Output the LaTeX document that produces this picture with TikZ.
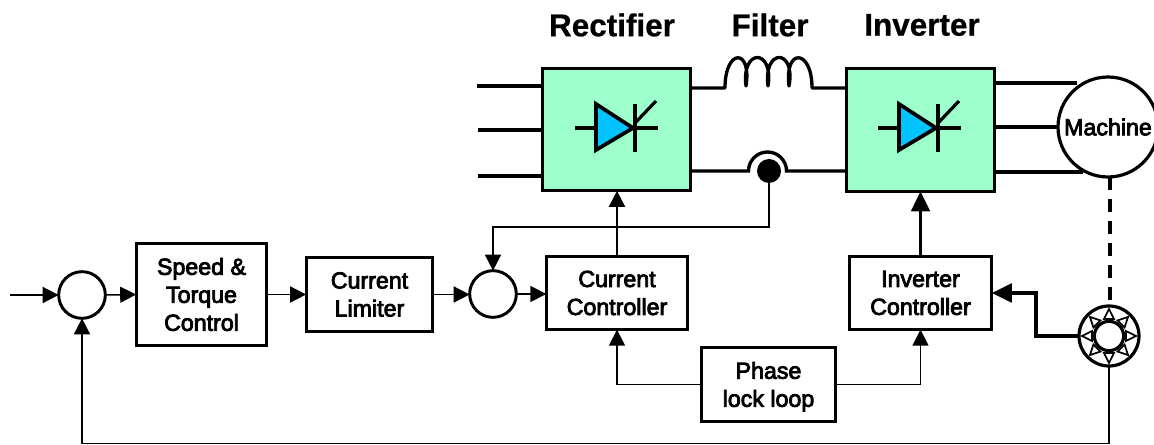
\documentclass[tikz,border=0pt]{standalone}
\usepackage{fontspec}
\setmainfont{Liberation Sans}
\newfontfamily\lab[FakeBold=3.5]{Liberation Sans}
\newfontfamily\ttl[FakeBold=0.6]{Liberation Sans Bold}
\usetikzlibrary{arrows.meta,calc}
\tikzset{
  x=0.75pt,y=-0.75pt,
  ctl/.style={draw,line width=2.4pt,fill=white,align=center,inner sep=0,outer sep=0,font=\lab\fontsize{17.4}{21}\selectfont},
  pow/.style={draw,line width=2.4pt,fill=powgreen,inner sep=0,outer sep=0,minimum width=111pt,minimum height=92pt},
  sumnode/.style={circle,draw,line width=2.2pt,fill=white,minimum size=35pt,inner sep=0,outer sep=0},
  wire/.style={line width=2.5pt},
  sig/.style={line width=1.15pt,-{Triangle[length=12pt,width=12pt]}},
  sigb/.style={line width=2.2pt,-{Triangle[length=15pt,width=14pt]}},
  thin wire/.style={line width=1.15pt},
  titletext/.style={font=\ttl\fontsize{23.6}{26}\selectfont,inner sep=0},
}
\definecolor{powgreen}{HTML}{9DFFCC}
\definecolor{diodeblue}{HTML}{00C3FF}
\newcommand{\thyr}[1]{%
  \begin{scope}[shift={(#1,128)}]
    \draw[line width=2.8pt] (-43,0) -- (40,0);
    \draw[line width=2.8pt] (17,-24) -- (17,24);
    \draw[line width=2.4pt] (18,-6) -- (38,-27);
    \draw[line width=2.8pt,fill=diodeblue,line join=miter] (-22,-24) -- (15,0) -- (-22,22) -- cycle;
  \end{scope}}
\begin{document}
\begin{tikzpicture}
\useasboundingbox (0,0) rectangle (1154,445);
% power stage
\node[pow] (rect) at (616.5,129.5) {};
\node[pow] (inv) at (920.5,130) {};
\thyr{618}
\thyr{921}
\node[titletext] (t1) at (612,25) {Rectifier};
\node[titletext] (t2) at (770,25) {Filter};
\node[titletext] (t3) at (922,25) {Inverter};
% mains
\coordinate (m1) at (477,86);
\coordinate (m2) at (478,130);
\coordinate (m3) at (478,176);
\draw[wire] (m1) -- (m1 -| rect.west);
\draw[wire] (m2) -- (m2 -| rect.west);
\draw[wire] (m3) -- (m3 -| rect.west);
% filter inductor
\coordinate (l0) at (725,88);
\coordinate (l4) at (812,88);
\draw[wire,line join=round] (rect.east |- l0) -- (l0)
  .. controls (725,48) and (752,48) .. (746,86)
  .. controls (741,48) and (774,48) .. (768,86)
  .. controls (763,48) and (796,48) .. (789,86)
  .. controls (784,48) and (812,48) .. (l4)
  -- (inv.west |- l4);
% current sensor
\node[circle,fill=black,minimum size=18pt,inner sep=0,outer sep=0] (cs) at (769,171) {};
\draw[wire] (rect.east |- cs) -- ++(58,0) arc[start angle=180,end angle=360,radius=19] -- (inv.west |- cs);
% machine
\node[sumnode,line width=2.4pt,minimum size=75pt,font=\lab\fontsize{17.4}{20}\selectfont] (mach) at (1108,127) {Machine};
\coordinate (o1) at (995,83);
\coordinate (o3) at (995,172);
\draw[wire] (o1) -- (1077,83);
\draw[wire] (inv.east |- mach) -- (mach.west);
\draw[wire] (o3) -- (1083,172);
% control blocks
\node[sumnode] (s1) at (82,295) {};
\node[sumnode] (s2) at (493,294) {};
\node[ctl,minimum width=98pt,minimum height=77pt] (spd) at (201.5,294.5) {Speed \&\\Torque\\Control};
\node[ctl,minimum width=95pt,minimum height=55pt] (lim) at (369.5,294.5) {Current\\Limiter};
\node[ctl,minimum width=106pt,minimum height=55pt] (cc) at (617,293) {Current\\Controller};
\node[ctl,minimum width=107pt,minimum height=55pt] (ic) at (920.5,293) {Inverter\\Controller};
\node[ctl,minimum width=100pt,minimum height=56pt] (pll) at (768.5,384.5) {\rule{0pt}{16pt}Phase\\lock loop};
% encoder
\node[circle,draw,line width=2.4pt,minimum size=45pt,inner sep=0,outer sep=0] (enc) at (1109,336) {};
\node[circle,draw,line width=2.4pt,minimum size=22pt,inner sep=0,outer sep=0] (enci) at (1109,336) {};
\foreach \a in {0,45,...,315}{
  \begin{scope}[shift={(1109,336)},rotate=\a]
    \draw[line width=1.3pt,fill=white,line join=miter] (17,-5) -- (27,0) -- (17,5) -- cycle;
  \end{scope}}
% connectors
\coordinate (in) at (10,295);
\draw[sig] (in) -- (s1.west);
\draw[sig] (s1.east) -- (spd.west);
\draw[sig] (spd.east) -- (lim.west);
\draw[sig] (lim.east) -- (lim.east -| s2.west);
\draw[sig] (s2.east) -- (s2.east -| cc.west);
\draw[sig] (cc.north) -- (rect.south -| cc.north);
\draw[sigb] (ic.north) -- (inv.south -| ic.north);
\draw[thin wire,-{Triangle[length=12pt,width=12pt]}] (cs.south) -- (769,227) -| (s2.north);
\draw[sig] (pll.west) -| (cc.south);
\draw[sig] (pll.east) -| (ic.south);
\draw[sigb,line width=2.4pt] (enc.west) -- (1036,336) -- (1036,293) -- (ic.east |- 1036,293);
\draw[sig] (enc.south) -- (1109,443.5) -| (s1.south);
\draw[line width=2.6pt,dash pattern=on 10pt off 6.5pt] (mach.south) ++(2,0) -- (1110,306);
\end{tikzpicture}
\end{document}
